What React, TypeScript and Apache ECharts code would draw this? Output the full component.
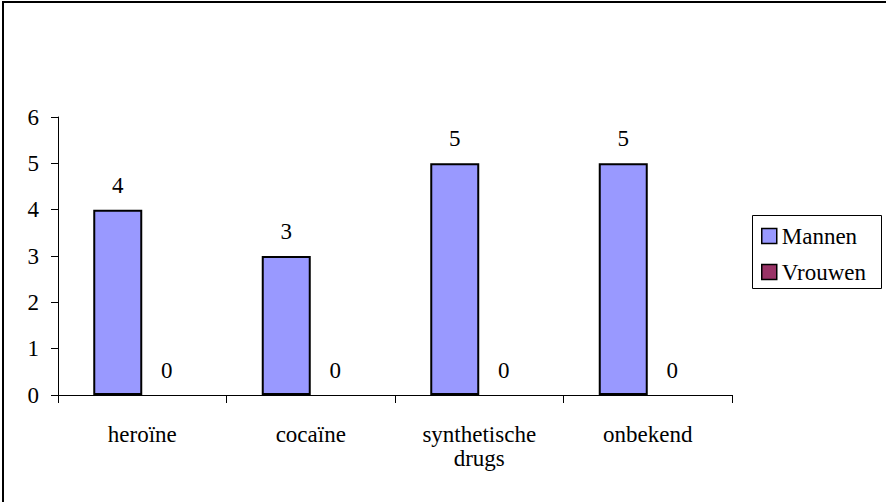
import React, { useEffect, useRef } from "react";
import * as echarts from "echarts";

const categories = ["heroïne", "cocaïne", "synthetische drugs", "onbekend"];
const mannen = [4, 3, 5, 5];
const vrouwen = [0, 0, 0, 0];
const seriesNames = ["Mannen", "Vrouwen"];
const yTicks = { min: 0, max: 6, interval: 1 };

const FONT = "Liberation Serif";
const FS = 23;

export default function App() {
  const ref = useRef<HTMLDivElement>(null);
  useEffect(() => {
    if (!ref.current) return;
    const chart = echarts.init(ref.current, null, { renderer: "svg" });
    const labelStyle = {
      show: true,
      position: "top" as const,
      distance: 13,
      fontFamily: FONT,
      fontSize: FS,
      color: "#000",
    };
    chart.setOption({
      animation: false,
      backgroundColor: "#fff",
      textStyle: { fontFamily: FONT, fontSize: FS },
      grid: { left: 58, right: 154, top: 117, bottom: 107, containLabel: false },
      legend: {
        orient: "vertical",
        left: 761,
        top: 224,
        icon: "rect",
        itemWidth: 15,
        itemHeight: 15,
        itemGap: 12,
        padding: 0,
        data: seriesNames,
        itemStyle: { borderColor: "#000", borderWidth: 1.5 },
        textStyle: { fontFamily: FONT, fontSize: FS, color: "#000", lineHeight: 24 },
      },
      xAxis: {
        type: "category",
        data: categories,
        axisLine: { show: true, lineStyle: { color: "#000", width: 1 } },
        axisTick: { show: true, length: 8, alignWithLabel: false, lineStyle: { color: "#000" } },
        axisLabel: {
          margin: 27,
          fontFamily: FONT,
          fontSize: FS,
          color: "#000",
          lineHeight: 24,
          formatter: (v: string) => v.replace(" ", "\n"),
        },
        splitLine: { show: false },
      },
      yAxis: {
        type: "value",
        min: yTicks.min,
        max: yTicks.max,
        interval: yTicks.interval,
        axisLine: { show: true, lineStyle: { color: "#000", width: 1 } },
        axisTick: { show: true, length: 7, lineStyle: { color: "#000" } },
        axisLabel: { margin: 19, fontFamily: FONT, fontSize: FS, color: "#000" },
        splitLine: { show: false },
      },
      series: [
        {
          name: seriesNames[0],
          type: "bar",
          data: mannen,
          barWidth: 49,
          barGap: "0%",
          itemStyle: { color: "#9999FF", borderColor: "#000", borderWidth: 2 },
          label: labelStyle,
        },
        {
          name: seriesNames[1],
          type: "bar",
          data: vrouwen,
          barWidth: 49,
          barGap: "0%",
          itemStyle: { color: "#993366", borderColor: "#000", borderWidth: 0 },
          label: labelStyle,
        },
      ],
      graphic: [
        {
          type: "rect",
          shape: { x: 3, y: 2, width: 1000, height: 1000 },
          style: { fill: "none", stroke: "#000", lineWidth: 2 },
          silent: true,
        },
        {
          type: "rect",
          shape: { x: 752.5, y: 215.5, width: 129, height: 73 },
          style: { fill: "none", stroke: "#000", lineWidth: 1 },
          silent: true,
        },
      ],
    });
    return () => chart.dispose();
  }, []);
  return (
    <div
      ref={ref}
      style={{ position: "fixed", left: 0, top: 0, width: 886, height: 502 }}
    />
  );
}
